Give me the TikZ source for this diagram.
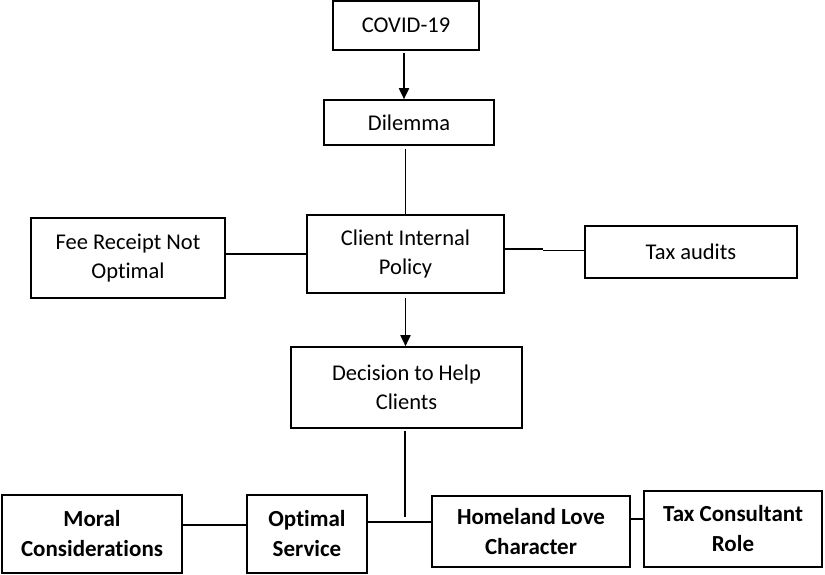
\documentclass[tikz,border=0pt]{standalone}
\usepackage{fontspec}
\setmainfont{Carlito}[Ligatures=NoCommon]
\usetikzlibrary{arrows.meta}
\begin{document}
\begin{tikzpicture}[x=1pt,y=-1pt,
  box/.style={draw,line width=1.6pt,inner sep=0pt,align=center,font=\fontsize{22.5}{29}\selectfont},
  boldbox/.style={box,line width=2.8pt,font=\fontsize{23}{30}\selectfont\bfseries},
  conn/.style={line width=1.8pt},
  arr/.style={conn,-{Triangle[length=11pt,width=10pt]}}]
\useasboundingbox (0,0) rectangle (825,575);
\node[box,minimum width=146pt,minimum height=49pt] (covid) at (406,25.5) {COVID-19};
\node[box,minimum width=170pt,minimum height=45pt] (dilemma) at (409,122.5) {Dilemma};
\node[box,minimum width=197pt,minimum height=78pt] (client) at (405.5,254) {Client Internal\\Policy};
\node[box,minimum width=194pt,minimum height=80pt] (fee) at (128,258) {Fee Receipt Not\\Optimal};
\node[box,minimum width=212pt,minimum height=52pt] (tax) at (691,252) {Tax audits};
\node[box,minimum width=231pt,minimum height=81pt] (decision) at (406.5,387.5) {Decision to Help\\Clients};
\node[boldbox,minimum width=180pt,minimum height=78pt] (moral) at (92,534) {Moral\\Considerations};
\node[boldbox,minimum width=120pt,minimum height=78pt] (optimal) at (307,534) {Optimal\\Service};
\node[boldbox,minimum width=198pt,minimum height=71pt] (homeland) at (531,531.5) {Homeland Love\\Character};
\node[boldbox,minimum width=178pt,minimum height=76pt] (taxrole) at (733,529) {Tax Consultant\\Role};
\coordinate (dend) at (405,517);
\coordinate (jog) at (543,249);
% connectors
\draw[arr] ([xshift=-2pt,yshift=-2pt]covid.south) -- ([xshift=-5pt]dilemma.north);
\draw[conn] ([yshift=-3pt]dilemma.south -| client.north) -- (client.north);
\draw[conn] (client.west) -- (client.west -| fee.east);
\draw[conn] ([yshift=5pt]client.east) -- (jog);
\draw[conn] ([yshift=-1.5pt]jog) -- ([yshift=-1.5pt]jog -| tax.west);
\draw[arr] ([yshift=-4pt]client.south) -- (client.south |- decision.north);
\draw[conn] ([yshift=-2pt]decision.south -| dend) -- (dend);
\draw[conn] ([yshift=9pt]optimal.west) -- ([yshift=9pt]optimal.west -| moral.east);
\draw[conn] ([yshift=9.5pt]homeland.west) -- ([yshift=9.5pt]homeland.west -| optimal.east);
\draw[conn] ([yshift=12.5pt]homeland.east) -- ([yshift=12.5pt]homeland.east -| taxrole.west);
\end{tikzpicture}
\end{document}
